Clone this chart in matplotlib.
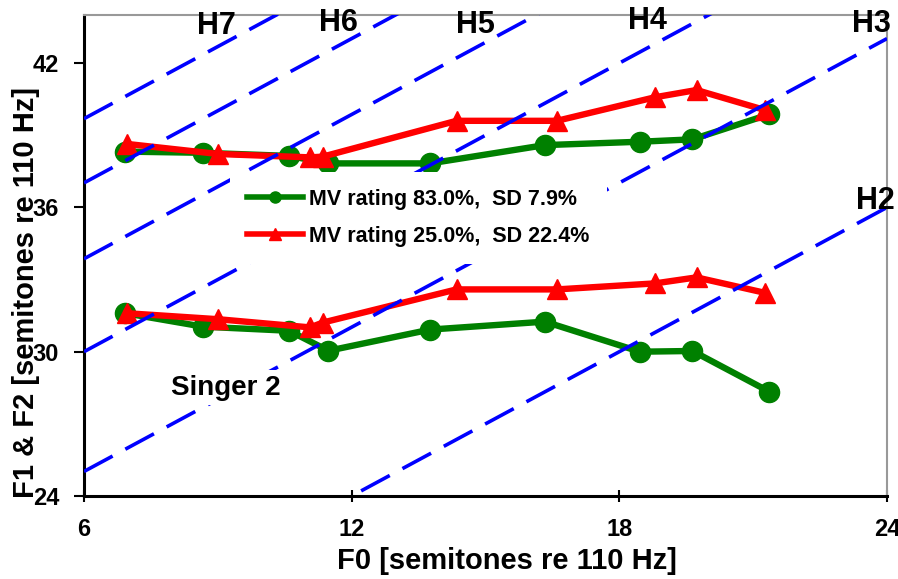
import numpy as np
import matplotlib
matplotlib.use("Agg")
import matplotlib.pyplot as plt
from matplotlib.lines import Line2D

plt.rcParams['font.family'] = ['Liberation Sans', 'DejaVu Sans']
plt.rcParams['font.weight'] = 'bold'

# F0 of each sung note (semitones re 110 Hz)
f0_good = [6.92, 8.67, 10.60, 11.48, 13.76, 16.33, 18.46, 19.64, 21.36]
f0_poor = [6.96, 9.01, 11.07, 11.35, 14.35, 16.60, 18.80, 19.73, 21.26]

# Formant frequencies (semitones re 110 Hz)
f2_good = [38.32, 38.27, 38.14, 37.83, 37.83, 38.59, 38.73, 38.83, 39.87]
f1_good = [31.60, 31.04, 30.87, 30.04, 30.92, 31.25, 30.00, 30.03, 28.34]
f2_poor = [38.64, 38.22, 38.08, 38.11, 39.60, 39.60, 40.58, 40.88, 40.05]
f1_poor = [31.60, 31.35, 31.01, 31.21, 32.59, 32.59, 32.84, 33.09, 32.45]

label_good = "MV rating 83.0%,  SD 7.9%"
label_poor = "MV rating 25.0%,  SD 22.4%"

# Harmonic numbers for the partial lines and their label positions
harmonics = [2, 3, 4, 5, 6, 7]
harm_label_x = [23.75, 23.64, 18.64, 14.77, 11.70, 8.97]
harm_label_y = [36.27, 43.62, 43.76, 43.60, 43.68, 43.56]

x_ticks = [6, 12, 18, 24]
y_ticks = [24, 30, 36, 42]

W, H = 898, 579
fig = plt.figure(figsize=(W / 100, H / 100), dpi=100)
ax = fig.add_axes([84 / W, 83 / H, 803 / W, 481 / H])
ax.set_xlim(6, 24)
ax.set_ylim(24, 44)

green = '#008000'
red = '#ff0000'
blue = '#0000ff'

line_kw = dict(lw=4.6, ms=14.5, solid_joinstyle='round')
ax.plot(f0_good, f2_good, color=green, marker='o', zorder=2, **line_kw)
ax.plot(f0_good, f1_good, color=green, marker='o', zorder=2, **line_kw)
ax.plot(f0_poor, f2_poor, color=red, marker='^', zorder=3, **line_kw)
ax.plot(f0_poor, f1_poor, color=red, marker='^', zorder=3, **line_kw)

# Partial frequency lines: Hn = F0 + 12*log2(n)
xs = np.array([6.0, 24.0])
for n, lx, ly in zip(harmonics, harm_label_x, harm_label_y):
    ax.plot(xs, xs + 12 * np.log2(n), color=blue, lw=2.6,
            dashes=(9, 4), zorder=4, dash_capstyle='butt')
    ax.text(lx, ly, f"H{n}", fontsize=22, fontweight='bold',
            ha='center', va='center', zorder=6, clip_on=False)

ax.text(9.19, 28.51, "Singer 2", fontsize=20, fontweight='bold',
        ha='center', va='center', zorder=5,
        bbox=dict(facecolor='white', edgecolor='none', pad=3))

handles = [
    Line2D([], [], color=green, marker='o', lw=4, ms=8),
    Line2D([], [], color=red, marker='^', lw=4, ms=8),
]
leg = ax.legend(handles, [label_good, label_poor],
                loc='upper left', bbox_to_anchor=(0.1815, 0.674),
                frameon=True, framealpha=1, facecolor='white',
                edgecolor='none', fancybox=False,
                prop=dict(size=15.5, weight='bold'),
                handlelength=2.6, handletextpad=0.3,
                labelspacing=0.73, borderpad=0.8, borderaxespad=0)
leg.set_zorder(5)

ax.set_xticks(x_ticks)
ax.set_yticks(y_ticks)
ax.tick_params(axis='x', direction='inout', length=9, width=1.5,
               labelsize=17, pad=11)
ax.tick_params(axis='y', direction='out', length=7, width=1.5,
               labelsize=17, pad=11)
for lab in ax.get_xticklabels() + ax.get_yticklabels():
    lab.set_fontweight('bold')

for side in ('left', 'bottom'):
    ax.spines[side].set_color('black')
    ax.spines[side].set_linewidth(2.2)
for side in ('top', 'right'):
    ax.spines[side].set_color('#999999')
    ax.spines[side].set_linewidth(1.5)

ax.set_xlabel("F0 [semitones re 110 Hz]", fontsize=21, fontweight='bold',
              va='center')
ax.xaxis.set_label_coords((507 - 84) / 803, (496 - 561) / 481)
ax.set_ylabel("F1 & F2 [semitones re 110 Hz]", fontsize=21,
              fontweight='bold', va='center', ha='center')
ax.yaxis.set_label_coords((26 - 84) / 803, (496 - 292) / 481)

fig.savefig("out.png", dpi=100)
